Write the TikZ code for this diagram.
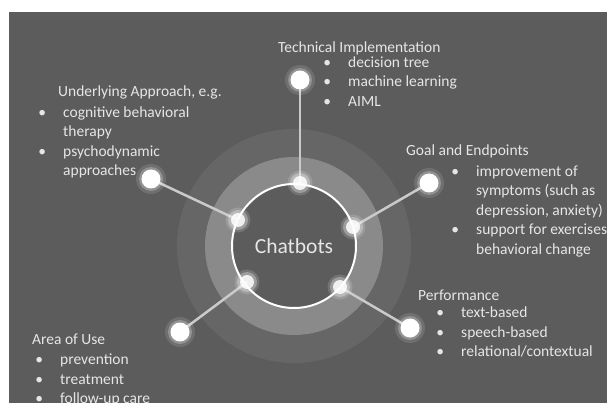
\documentclass[tikz,border=0pt]{standalone}
\usepackage{fontspec}
\setmainfont{Carlito}

% colours
\definecolor{bgGray}{HTML}{5C5C5C}
\definecolor{ringOuter}{HTML}{666666}
\definecolor{ringMid}{HTML}{8A8A8A}
\definecolor{spokeGray}{HTML}{CACACA}
\definecolor{txtGray}{HTML}{E6E6E6}

% bullet with its hanging indent
\newcommand{\itm}{\makebox[0pt][c]{\textbullet}\hspace{21pt}}
\newcommand{\ind}{\hspace{21pt}}

\begin{document}
\begin{tikzpicture}[x=1pt, y=-1pt,
    every node/.style={font=\fontsize{15.5}{19.5}\selectfont, text=txtGray, inner sep=0pt},
    spoke/.style={spokeGray, line width=2.5pt}]

    % --- Canvas ---
    \useasboundingbox (0,0) rectangle (607,403);
    \fill[bgGray] (9,12) rectangle (607,403);

    % --- Rings around the hub ---
    \coordinate (C) at (294,246);
    \fill[ringOuter] (C) circle (117pt);
    \fill[ringMid] (C) circle (89pt);
    \draw[white, line width=2pt, fill=bgGray] (C) circle (62pt);

    % --- Dots: inner ones on the hub, outer ones at the spoke ends ---
    \coordinate (techIn) at (300,183);
    \coordinate (techOut) at (300,80);
    \coordinate (apprIn) at (238,220);
    \coordinate (apprOut) at (151,179);
    \coordinate (goalIn) at (353,227);
    \coordinate (goalOut) at (429,183);
    \coordinate (useIn) at (247,282);
    \coordinate (useOut) at (180,332);
    \coordinate (perfIn) at (340,287);
    \coordinate (perfOut) at (410,328);

    % --- Spokes ---
    \draw[spoke] (techIn) -- (techOut);
    \draw[spoke] (apprIn) -- (apprOut);
    \draw[spoke] (goalIn) -- (goalOut);
    \draw[spoke] (useIn) -- (useOut);
    \draw[spoke] (perfIn) -- (perfOut);

    % glowing dots
    \foreach \p in {techIn, apprIn, goalIn, useIn, perfIn} {
        \fill[white, opacity=0.15] (\p) circle (12.5pt);
        \fill[white, opacity=0.3] (\p) circle (10pt);
        \fill[white, opacity=0.85] (\p) circle (7pt);
    }
    \foreach \p in {techOut, apprOut, goalOut, useOut, perfOut} {
        \fill[white, opacity=0.12] (\p) circle (15pt);
        \fill[white, opacity=0.25] (\p) circle (12pt);
        \fill[white] (\p) circle (9.5pt);
    }

    % --- Hub label ---
    \node[font=\fontsize{21.5}{24}\selectfont] (hub) at (C) {Chatbots};

    % --- Texts ---
    % Technical Implementation (top)
    \node[anchor=base west] (techTitle) at (278,53) {Technical Implementation};
    \node[anchor=base west] (techList) at (327,67.5) {\begin{tabular}[t]{@{}l@{}}
        \itm decision tree\\ \itm machine learning\\ \itm AIML\end{tabular}};

    % Underlying Approach (upper left)
    \node[anchor=base west] (apprTitle) at (58,97) {Underlying Approach, e.g.};
    \node[anchor=base west] (apprList) at (42,117.5) {\begin{tabular}[t]{@{}l@{}}
        \itm cognitive behavioral\\ \ind therapy\\ \itm psychodynamic\\ \ind approaches\end{tabular}};

    % Goal and Endpoints (right)
    \node[anchor=base west] (goalTitle) at (406,156) {Goal and Endpoints};
    \node[anchor=base west] (goalList) at (455,176.5) {\begin{tabular}[t]{@{}l@{}}
        \itm improvement of\\ \ind symptoms (such as\\ \ind depression, anxiety)\\
        \itm support for exercises\\ \ind behavioral change\end{tabular}};

    % Performance (lower right)
    \node[anchor=base west] (perfTitle) at (418,300) {Performance};
    \node[anchor=base west] (perfList) at (440,317.5) {\begin{tabular}[t]{@{}l@{}}
        \itm text-based\\ \itm speech-based\\ \itm relational/contextual\end{tabular}};

    % Area of Use (lower left)
    \node[anchor=base west] (useTitle) at (32,344) {Area of Use};
    \node[anchor=base west] (useList) at (39,364.5) {\begin{tabular}[t]{@{}l@{}}
        \itm prevention\\ \itm treatment\\ \itm follow-up care\end{tabular}};

\end{tikzpicture}
\end{document}
